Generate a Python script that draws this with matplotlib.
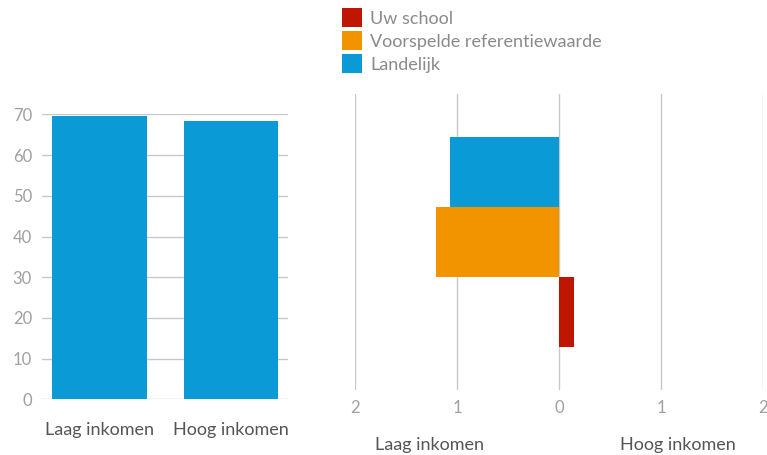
import matplotlib
matplotlib.use("Agg")
from matplotlib import pyplot as plt
from matplotlib.patches import Patch
from matplotlib.ticker import FuncFormatter

plt.rcParams['font.family'] = ['Lato', 'DejaVu Sans']

# data
categories = ["Laag inkomen", "Hoog inkomen"]
landelijk_pct = [69.6, 68.5]

series = ["Uw school", "Voorspelde referentiewaarde", "Landelijk"]
series_values = [0.14, -1.21, -1.07]   # negative = laag inkomen side
series_colors = ["#BE1600", "#F29400", "#0A9BD6"]

GRID = "#c8c8c8"
TICK = "#a0a0a0"
TEXT = "#555555"

fig = plt.figure(figsize=(7.67, 4.55), dpi=100)

# left: bar chart
ax1 = fig.add_axes([0.0544, 0.1224, 0.321, 0.626])
ax1.bar(range(len(categories)), landelijk_pct, width=0.72, color=series_colors[2], zorder=2)
ax1.set_xlim(-0.437, 1.433)
ax1.set_ylim(0, 70)
ax1.set_yticks(range(0, 71, 10))
ax1.set_xticks(range(len(categories)))
ax1.set_xticklabels(categories, fontsize=13, color=TEXT)
ax1.tick_params(axis='x', length=0, pad=16)
ax1.tick_params(axis='y', length=0, pad=7, labelsize=12, labelcolor=TICK)
ax1.grid(axis='y', color=GRID, linewidth=1, zorder=0)
for s in ax1.spines.values():
    s.set_visible(False)

# right: diverging bars
ax2 = fig.add_axes([0.4632, 0.1429, 0.532, 0.6505])
ypos = [-0.236, 0.0, 0.236]
ax2.barh(ypos, series_values, height=0.236, color=series_colors, zorder=2)
ax2.set_xlim(-2, 2)
ax2.set_ylim(-0.5, 0.5)
ax2.set_xticks([-2, -1, 0, 1, 2])
ax2.xaxis.set_major_formatter(FuncFormatter(lambda v, p: f"{abs(v):.0f}"))
ax2.set_yticks([])
ax2.tick_params(axis='x', length=0, pad=7, labelsize=12, labelcolor=TICK)
ax2.grid(axis='x', color=GRID, linewidth=1, zorder=0)
for s in ax2.spines.values():
    s.set_visible(False)

ax2.text(-1.27, -0.685, "Laag inkomen", ha='center', va='center', fontsize=13, color=TEXT)
ax2.text(1.16, -0.685, "Hoog inkomen", ha='center', va='center', fontsize=13, color=TEXT)

handles = [Patch(facecolor=c, edgecolor='none') for c in series_colors]
fig.legend(handles, series, loc='upper left', bbox_to_anchor=(0.446, 0.982),
           frameon=False, fontsize=13, labelcolor="#8a8a8a",
           handlelength=1.1, handleheight=1.25, handletextpad=0.45,
           labelspacing=0.22, borderaxespad=0, borderpad=0)

fig.savefig("out.png", dpi=100)
